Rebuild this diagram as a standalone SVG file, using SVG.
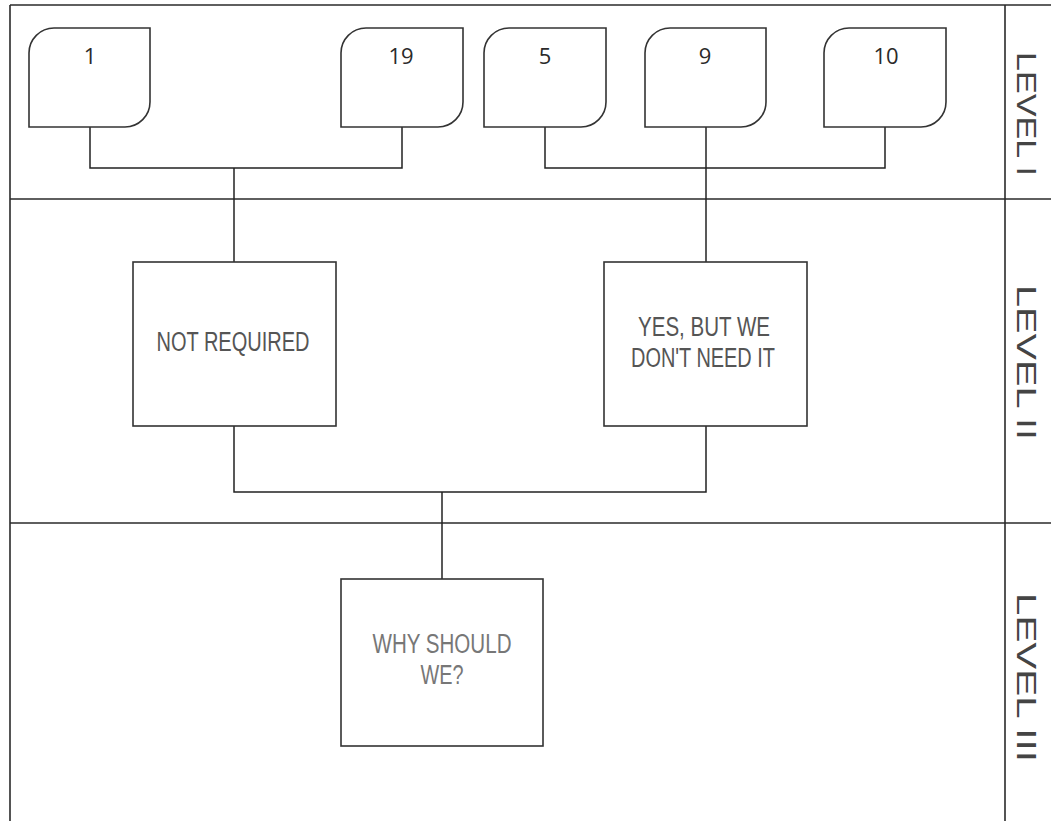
<svg xmlns="http://www.w3.org/2000/svg" width="1051" height="821" viewBox="0 0 1051 821">
<style>
.frame{fill:none;stroke:#2a2a2a;stroke-width:1.6}
.box{fill:#fff;stroke:#333;stroke-width:1.6}
.conn{fill:none;stroke:#222;stroke-width:1.5}
.num{font-family:"Open Sans","Noto Sans",sans-serif;font-size:22px;fill:#2a2a2a;text-anchor:middle}
.lbl{font-family:"Liberation Sans",Arial,sans-serif;font-size:27px;fill:#555;text-anchor:middle}
.lbl2{font-family:"Liberation Sans",Arial,sans-serif;font-size:27px;fill:#777;text-anchor:middle}
.lvl{font-family:"Liberation Sans",Arial,sans-serif;font-size:27px;fill:#444}
</style>
<rect width="1051" height="821" fill="#fff"/>
<g id="frame">
<line class="frame" x1="10" y1="5" x2="1051" y2="5"/>
<line class="frame" x1="10" y1="199" x2="1051" y2="199"/>
<line class="frame" x1="10" y1="523" x2="1051" y2="523"/>
<line class="frame" x1="10" y1="5" x2="10" y2="821"/>
<line class="frame" x1="1005" y1="5" x2="1005" y2="821"/>
</g>
<g id="level-labels">
<text class="lvl" transform="translate(1017,52) rotate(90)" textLength="124" lengthAdjust="spacingAndGlyphs">LEVEL I</text>
<text class="lvl" transform="translate(1017,285) rotate(90)" textLength="155" lengthAdjust="spacingAndGlyphs">LEVEL II</text>
<text class="lvl" transform="translate(1017,593) rotate(90)" textLength="169" lengthAdjust="spacingAndGlyphs">LEVEL III</text>
</g>
<g id="connectors">
<polyline class="conn" points="90,127 90,168 402,168 402,127"/>
<line class="conn" x1="234" y1="168" x2="234" y2="262"/>
<polyline class="conn" points="545,127 545,168 885,168 885,127"/>
<line class="conn" x1="706" y1="127" x2="706" y2="262"/>
<polyline class="conn" points="234,426 234,492 706,492 706,426"/>
<line class="conn" x1="442" y1="492" x2="442" y2="579"/>
</g>
<g id="node-1">
<path class="box" d="M29,53 A25,25 0 0 1 54,28 H150 V102 A25,25 0 0 1 125,127 H29 Z"/>
<text class="num" x="90" y="64">1</text>
</g>
<g id="node-19">
<path class="box" d="M341,53 A25,25 0 0 1 366,28 H463 V102 A25,25 0 0 1 438,127 H341 Z"/>
<text class="num" x="401" y="64">19</text>
</g>
<g id="node-5">
<path class="box" d="M484,53 A25,25 0 0 1 509,28 H606 V102 A25,25 0 0 1 581,127 H484 Z"/>
<text class="num" x="545" y="64">5</text>
</g>
<g id="node-9">
<path class="box" d="M645,53 A25,25 0 0 1 670,28 H766 V102 A25,25 0 0 1 741,127 H645 Z"/>
<text class="num" x="705" y="64">9</text>
</g>
<g id="node-10">
<path class="box" d="M824,53 A25,25 0 0 1 849,28 H946 V102 A25,25 0 0 1 921,127 H824 Z"/>
<text class="num" x="886" y="64">10</text>
</g>
<g id="node-not-required">
<rect class="box" x="133" y="262" width="203" height="164"/>
<text class="lbl" x="233" y="351" textLength="153" lengthAdjust="spacingAndGlyphs">NOT REQUIRED</text>
</g>
<g id="node-yes-but">
<rect class="box" x="604" y="262" width="203" height="164"/>
<text class="lbl" x="704" y="336" textLength="132" lengthAdjust="spacingAndGlyphs">YES, BUT WE</text>
<text class="lbl" x="703" y="367" textLength="144" lengthAdjust="spacingAndGlyphs">DON'T NEED IT</text>
</g>
<g id="node-why">
<rect class="box" x="341" y="579" width="202" height="167"/>
<text class="lbl2" x="442" y="653" textLength="139" lengthAdjust="spacingAndGlyphs">WHY SHOULD</text>
<text class="lbl2" x="442" y="684" textLength="43" lengthAdjust="spacingAndGlyphs">WE?</text>
</g>
</svg>
